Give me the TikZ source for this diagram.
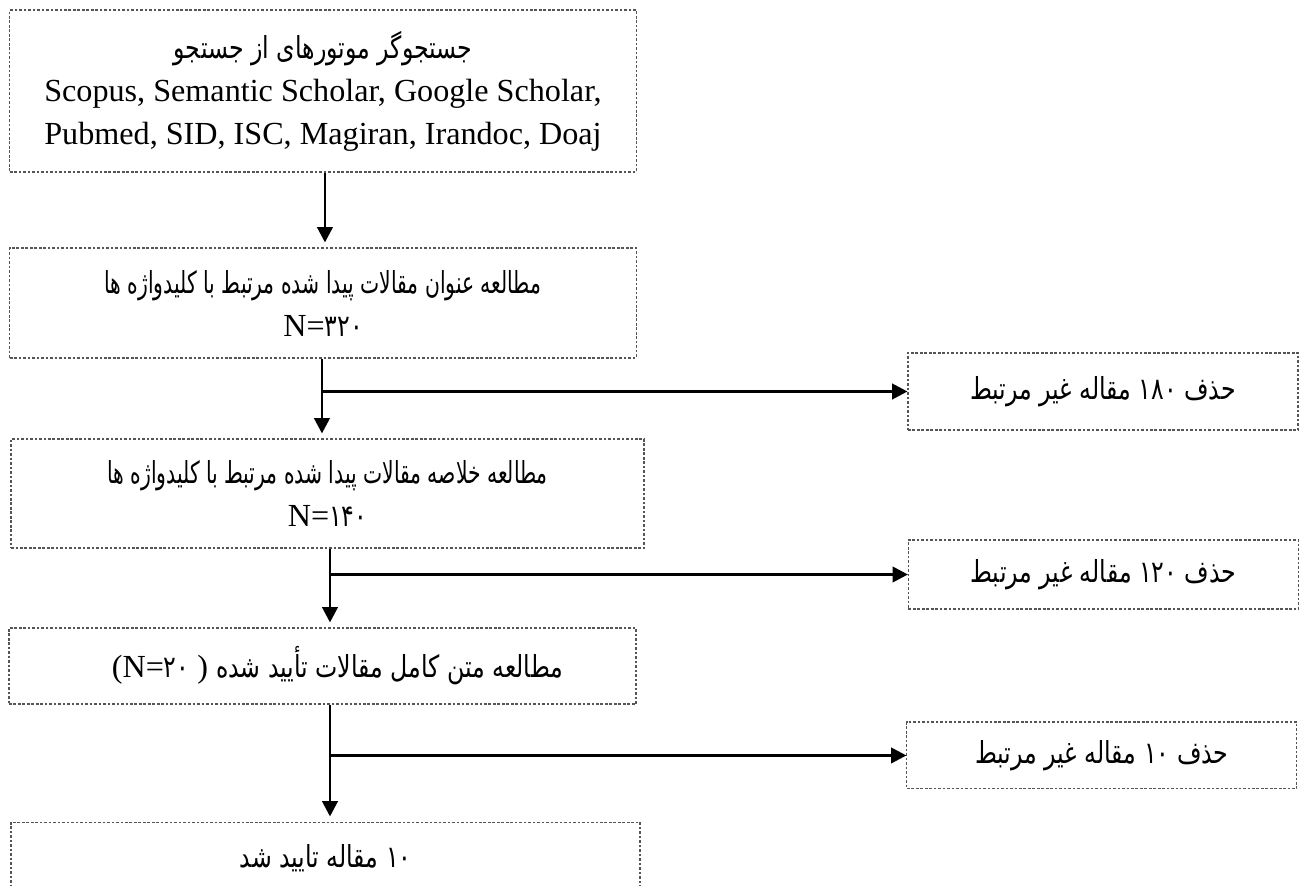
\documentclass[tikz,border=0pt]{standalone}
\usepackage{fontspec}
\setmainfont{Liberation Serif}
\newfontfamily\arabicfont[Script=Arabic,FakeStretch=0.78]{DejaVu Sans}
\newfontfamily\arabicnarrow[Script=Arabic,FakeStretch=0.67]{DejaVu Sans}
\TeXXeTstate=1
\usetikzlibrary{arrows.meta}
\definecolor{boxEdge}{RGB}{85,85,85}
\newcommand{\fatext}{\arabicfont\fontsize{11.5}{16.3}\selectfont}
\newcommand{\fanarrow}{\arabicnarrow\fontsize{11.5}{16.3}\selectfont}
\newcommand{\latext}{\rmfamily\fontsize{12.2}{16.3}\selectfont}
\newcommand{\faline}[1]{{\fatext\beginR #1\endR}}
\newcommand{\falong}[1]{{\fanarrow\beginR #1\endR}}

\begin{document}
\begin{tikzpicture}[
  flowbox/.style={rectangle, draw=boxEdge, line width=0.4pt,
                  dash pattern=on 1pt off 0.7pt, inner sep=0pt,
                  align=center, font=\latext},
  mainbox/.style={flowbox, minimum width=8.35cm},
  sidebox/.style={flowbox, minimum width=5.2cm},
  arr/.style={-{Triangle[length=5.8pt,width=5.8pt]}, line width=1.1pt, black},
  downarr/.style={arr, shorten >=1.9pt},
]
\useasboundingbox (0,0) rectangle (17.347,-11.813);

%%──────────────────────────────────────────────────────────────────
%% LEFT COLUMN: screening steps
%%──────────────────────────────────────────────────────────────────
\node[mainbox, minimum height=2.16cm] (search) at (4.307,-1.213)
      {\faline{جستجوگر موتورهای از جستجو}\\
       Scopus, Semantic Scholar, Google Scholar,\\
       Pubmed, SID, ISC, Magiran, Irandoc, Doaj};

\node[mainbox, minimum height=1.467cm] (title) at (4.307,-4.04)
      {\falong{مطالعه عنوان مقالات پیدا شده مرتبط با کلیدواژه ها}\\
       N={\fatext ۳۲۰}};

\node[mainbox, minimum width=8.44cm, minimum height=1.453cm] (abstract) at (4.367,-6.58)
      {\falong{مطالعه خلاصه مقالات پیدا شده مرتبط با کلیدواژه ها}\\
       N={\fatext ۱۴۰}};

\node[mainbox, minimum width=8.36cm, minimum height=1.013cm] (fulltext) at (4.30,-8.88)
      {\hspace*{0.4cm}(N={\fatext ۲۰}~) \faline{مطالعه متن کامل مقالات تأیید شده}};

% last box runs past the lower edge of the page
\node[mainbox, minimum width=8.387cm, minimum height=0.973cm] (accepted) at (4.34,-11.447)
      {\faline{\beginL ۱۰\endL{} مقاله تایید شد}};

%%──────────────────────────────────────────────────────────────────
%% RIGHT COLUMN: removed articles
%%──────────────────────────────────────────────────────────────────
\node[sidebox, minimum height=1.027cm] (drop1) at (14.707,-5.22)
      {\faline{حذف \beginL ۱۸۰\endL{} مقاله غیر مرتبط}};
\node[sidebox, minimum height=0.92cm] (drop2) at (14.713,-7.66)
      {\faline{حذف \beginL ۱۲۰\endL{} مقاله غیر مرتبط}};
\node[sidebox, minimum height=0.893cm] (drop3) at (14.693,-10.073)
      {\faline{حذف \beginL ۱۰\endL{} مقاله غیر مرتبط}};

%% connectors
\coordinate (v1) at (4.333,-2.8);
\draw[downarr] (search.south -| v1) -- (title.north -| v1);

\coordinate (j1) at (4.293,-5.22);
\draw[downarr] (title.south -| j1) -- (abstract.north -| j1);
\draw[arr] (j1) -- (drop1.west);

\coordinate (j2) at (4.4,-7.66);
\draw[downarr] (abstract.south -| j2) -- (fulltext.north -| j2);
\draw[arr] (j2) -- (drop2.west);

\coordinate (j3) at (4.4,-10.073);
\draw[downarr] (fulltext.south -| j3) -- (accepted.north -| j3);
\draw[arr] (j3) -- (drop3.west);

\end{tikzpicture}
\end{document}
